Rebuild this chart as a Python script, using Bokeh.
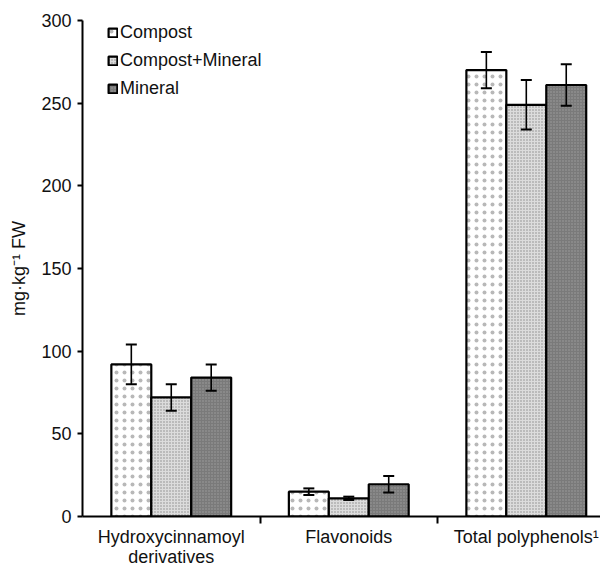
from bokeh.plotting import figure
from bokeh.models import ColumnDataSource, Whisker, TeeHead, FixedTicker, Legend, LegendItem
from bokeh.embed import file_html
from bokeh.resources import INLINE

categories = ["Hydroxycinnamoyl\nderivatives", "Flavonoids", "Total polyphenols\u00b9"]
series = ["Compost", "Compost+Mineral", "Mineral"]
compost = [92, 15, 270]
compost_err = [12, 2, 11]
compost_mineral = [72, 11, 249]
compost_mineral_err = [8, 1, 15]
mineral = [84, 19.5, 261]
mineral_err = [8, 5, 12.5]

values = [compost, compost_mineral, mineral]
errors = [compost_err, compost_mineral_err, mineral_err]

FONT = "Liberation Sans"
centers = [i + 0.5 for i in range(len(categories))]
bw = 0.225
offsets = [-bw, 0.0, bw]

styles = [
    dict(fill_color="white", hatch_pattern="dot", hatch_scale=8, hatch_color="#b8b8b8", hatch_weight=0.5),
    dict(fill_color="#dcdcdc", hatch_pattern="dot", hatch_scale=3, hatch_color="#8a8a8a", hatch_weight=1.0),
    dict(fill_color="#7a7a7a", hatch_pattern="dot", hatch_scale=3, hatch_color="#a0a0a0", hatch_weight=1.0),
]

p = figure(frame_width=518, frame_height=496, x_range=(0, 2.918), y_range=(0, 300),
           output_backend="svg", toolbar_location=None,
           min_border_left=82, min_border_right=0, min_border_top=20, min_border_bottom=0)
p.outline_line_color = None
p.xgrid.visible = False
p.ygrid.visible = False
p.background_fill_color = "white"

items = []
for k, name in enumerate(series):
    xs = [c + offsets[k] for c in centers]
    src = ColumnDataSource(dict(x=xs, top=values[k],
                                upper=[v + e for v, e in zip(values[k], errors[k])],
                                lower=[v - e for v, e in zip(values[k], errors[k])]))
    r = p.vbar(x="x", top="top", width=bw, bottom=0, source=src,
               line_color="black", line_width=2.2, **styles[k])
    items.append(LegendItem(label=name, renderers=[r]))
    w = Whisker(base="x", upper="upper", lower="lower", source=src, level="overlay",
                line_color="black", line_width=1.6,
                upper_head=TeeHead(size=11, line_width=2, line_color="black"),
                lower_head=TeeHead(size=11, line_width=2, line_color="black"))
    p.add_layout(w)

legend = Legend(items=items, location=(25, 417))
legend.border_line_color = None
legend.background_fill_alpha = 0
legend.padding = 0
legend.margin = 0
legend.spacing = 7
legend.glyph_width = 11
legend.glyph_height = 11
legend.label_standoff = 2
legend.label_height = 20
legend.label_text_font = FONT
legend.label_text_font_size = "18px"
legend.label_text_color = "#111111"
p.add_layout(legend, "center")

p.xaxis.ticker = FixedTicker(ticks=centers, minor_ticks=[1, 2])
p.xaxis.major_label_overrides = {c: lab for c, lab in zip(centers, categories)}
p.xaxis.major_tick_out = 0
p.xaxis.major_tick_in = 0
p.xaxis.minor_tick_out = 7
p.xaxis.minor_tick_in = 0
p.xaxis.minor_tick_line_width = 2
p.xaxis.axis_line_width = 2
p.xaxis.major_label_standoff = 3
p.xaxis.major_label_text_line_height = 1.0
p.xaxis.major_label_text_font = FONT
p.xaxis.major_label_text_font_size = "18px"
p.xaxis.major_label_text_color = "#111111"

p.yaxis.ticker = FixedTicker(ticks=[0, 50, 100, 150, 200, 250, 300])
p.yaxis.minor_tick_line_color = None
p.yaxis.major_tick_out = 5
p.yaxis.major_tick_in = 0
p.yaxis.major_tick_line_width = 2
p.yaxis.axis_line_width = 2
p.yaxis.major_label_standoff = 6
p.yaxis.major_label_text_font = FONT
p.yaxis.major_label_text_font_size = "18px"
p.yaxis.major_label_text_color = "#111111"
p.yaxis.axis_label = "mg\u00b7kg\u207b\u00b9 FW"
p.yaxis.axis_label_text_font = FONT
p.yaxis.axis_label_text_font_size = "18px"
p.yaxis.axis_label_text_font_style = "normal"
p.yaxis.axis_label_text_color = "#111111"
p.yaxis.axis_label_standoff = 9

open("out.html", "w").write(file_html(p, INLINE))
